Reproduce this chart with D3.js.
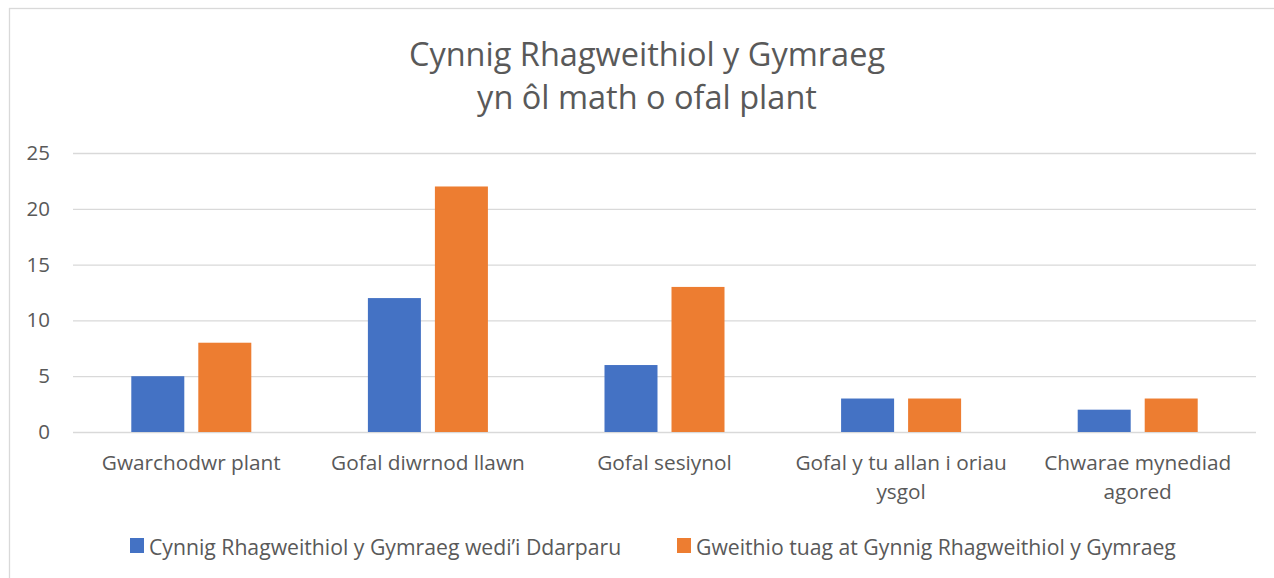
<!DOCTYPE html>
<html>
<head>
<meta charset="utf-8">
<script src="https://cdn.jsdelivr.net/npm/d3@7"></script>
<style>
  body { margin: 0; background: #fff; }
  text { font-family: "Open Sans", sans-serif; fill: #595959; }
</style>
</head>
<body>
<script>
// chart data
var categories = ["Gwarchodwr plant", "Gofal diwrnod llawn", "Gofal sesiynol", "Gofal y tu allan i oriau ysgol", "Chwarae mynediad agored"];
var seriesNames = ["Cynnig Rhagweithiol y Gymraeg wedi\u2019i Ddarparu", "Gweithio tuag at Gynnig Rhagweithiol y Gymraeg"];
var provided = [5, 12, 6, 3, 2];
var working = [8, 22, 13, 3, 3];
var yTicks = [0, 5, 10, 15, 20, 25];
var titleLines = ["Cynnig Rhagweithiol y Gymraeg", "yn \u00f4l math o ofal plant"];
var colours = ["#4472c4", "#ed7d31"];

var w = 1274, h = 578;
var plotLeft = 73, plotRight = 1256, plotTop = 153, plotBottom = 432;

var svg = d3.select("body").append("svg")
  .attr("width", w)
  .attr("height", h);

// chart border
svg.append("rect")
  .attr("x", 9.5).attr("y", 8.5)
  .attr("width", w).attr("height", h)
  .attr("fill", "none")
  .attr("stroke", "#d9d9d9")
  .attr("stroke-width", 1.3);

var x = d3.scaleBand().domain(categories).range([plotLeft, plotRight]);
var x1 = d3.scaleBand().domain([0, 1]).range([0, x.bandwidth()])
  .paddingInner(0.209).paddingOuter(0.87);
var y = d3.scaleLinear().domain([0, 25]).range([plotBottom, plotTop]);

// gridlines + y labels
var yAxis = d3.axisLeft(y).tickValues(yTicks).tickSize(-(plotRight - plotLeft)).tickPadding(23);
var gy = svg.append("g").attr("transform", "translate(" + plotLeft + ",0)").call(yAxis);
gy.select(".domain").remove();
gy.selectAll("line").attr("stroke", "#d9d9d9").attr("stroke-width", 1.3);
gy.selectAll("text").attr("font-size", "20.5px").attr("fill", "#595959")
  .style("font-family", "'Open Sans', sans-serif");

// bars
var rows = categories.map(function(c, i) { return {cat: c, vals: [provided[i], working[i]]}; });
var groups = svg.selectAll("g.cat")
  .data(rows)
  .enter()
  .append("g")
  .attr("class", "cat")
  .attr("transform", function(d) { return "translate(" + x(d.cat) + ",0)"; });

groups.selectAll("rect")
  .data(function(d) { return d.vals.map(function(v, j) { return {v: v, j: j}; }); })
  .enter()
  .append("rect")
  .attr("x", function(d) { return x1(d.j); })
  .attr("width", x1.bandwidth())
  .attr("y", function(d) { return y(d.v); })
  .attr("height", function(d) { return y(0) - y(d.v); })
  .attr("fill", function(d) { return colours[d.j]; });

// category labels, wrapped to band width
function wrapWords(text, width, node) {
  var words = text.split(" "), lines = [], line = [];
  words.forEach(function(wd) {
    line.push(wd);
    node.text(line.join(" "));
    if (node.node().getComputedTextLength() > width && line.length > 1) {
      line.pop();
      lines.push(line.join(" "));
      line = [wd];
    }
  });
  lines.push(line.join(" "));
  return lines;
}

categories.forEach(function(c) {
  var t = svg.append("text")
    .attr("text-anchor", "middle")
    .attr("font-size", "20.8px")
    .attr("x", x(c) + x.bandwidth() / 2)
    .attr("y", 470);
  var lines = wrapWords(c, x.bandwidth() - 10, t);
  t.text(null);
  lines.forEach(function(l, i) {
    t.append("tspan")
      .attr("x", x(c) + x.bandwidth() / 2)
      .attr("dy", i === 0 ? 0 : 29)
      .text(l);
  });
});

// title
svg.selectAll("text.title")
  .data(titleLines)
  .enter()
  .append("text")
  .attr("class", "title")
  .attr("text-anchor", "middle")
  .attr("font-size", "32.5px")
  .attr("x", 647)
  .attr("y", function(d, i) { return 66 + i * 43; })
  .text(function(d) { return d; });

// legend
var legendX = [130, 677];
var leg = svg.selectAll("g.legend")
  .data(seriesNames)
  .enter()
  .append("g")
  .attr("class", "legend")
  .attr("transform", function(d, i) { return "translate(" + legendX[i] + ",538)"; });
leg.append("rect")
  .attr("width", 14).attr("height", 15)
  .attr("fill", function(d, i) { return colours[i]; });
leg.append("text")
  .attr("x", 19).attr("y", 16.5)
  .attr("font-size", "21.2px")
  .text(function(d) { return d; });
</script>
</body>
</html>
